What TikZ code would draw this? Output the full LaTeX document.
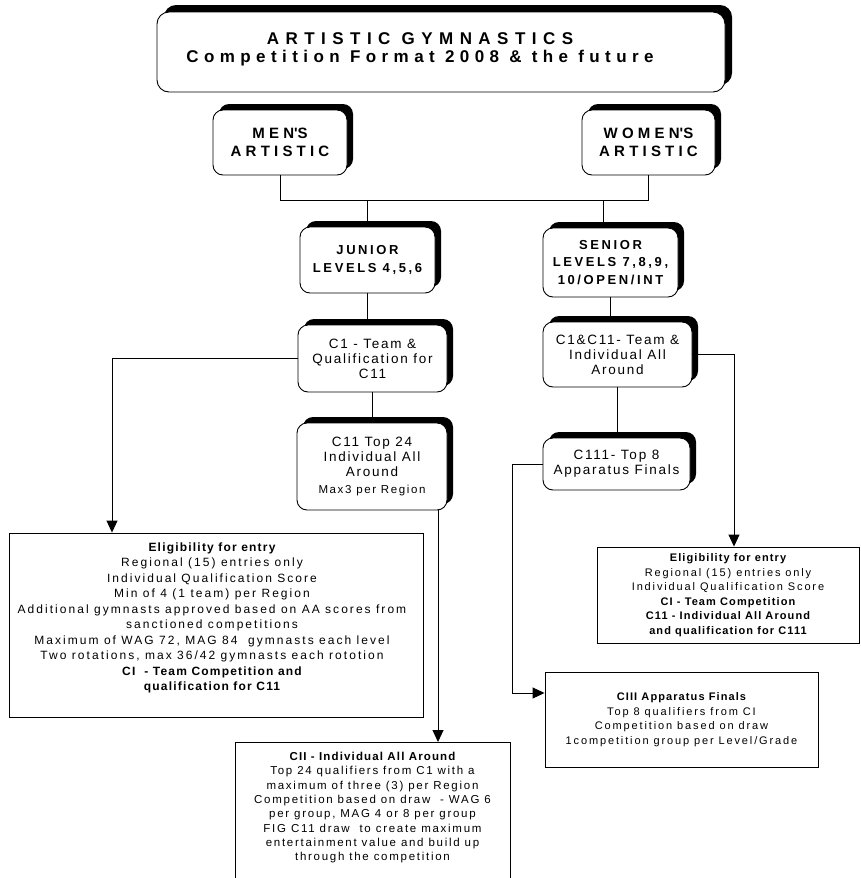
\documentclass[tikz,border=0pt]{standalone}
\usepackage{fontspec}
\setmainfont{Liberation Sans}
\usetikzlibrary{shadows,arrows.meta}
% tracking (letter spacing) for the current font, in per cent of its size
\newcommand{\ls}[1]{\addfontfeature{LetterSpace=#1}}
\newcommand{\sq}{\textquotesingle}
% bold heading line inside a note, with tighter tracking
\newcommand{\hd}[1]{{\bfseries\ls{10}#1}}

\begin{document}
\begin{tikzpicture}[x=1pt,y=-1pt,
  rbox/.style={draw, fill=white, rounded corners=10pt, line width=0.9pt,
    align=center, inner sep=0pt,
    drop shadow={shadow xshift=#1, shadow yshift=#1, fill=black, opacity=1}},
  rbox/.default=6pt,
  nbox/.style={draw, fill=white, line width=0.9pt, inner sep=0pt, align=center},
  link/.style={line width=0.9pt},
  tolink/.style={link, -{Triangle[width=11pt,length=12pt]}},
  titlefont/.style={font=\fontsize{17}{18}\selectfont\bfseries},
  genderfont/.style={font=\fontsize{15}{18}\selectfont\bfseries\ls{28}},
  levelfont/.style={font=\fontsize{13}{17.5}\selectfont\bfseries\ls{20}},
  stagefont/.style={font=\fontsize{13.5}{15}\selectfont\ls{13}},
  notefont/.style={font=\fontsize{12}{15.5}\selectfont\ls{17}},
  smallnote/.style={font=\fontsize{11}{14.5}\selectfont\ls{17}},
  midnote/.style={font=\fontsize{11.5}{14.3}\selectfont\ls{15}},
]
\clip (0,0) rectangle (860,878);
\fill[white] (0,0) rectangle (860,878);

% heading
\node[rbox=7pt, rounded corners=12pt, minimum width=568pt, minimum height=80pt] (title) at (441,52) {};
\node[titlefont, align=center, inner sep=0pt] (titletext) at (420,49)
  {\ls{38}ARTISTIC GYMNASTICS\\\ls{32}Competition Format 2008 \& the future};

% disciplines
\node[rbox, minimum width=134pt, minimum height=65pt, genderfont] (men) at (280,142.5)
  {MEN\sq S\\ARTISTIC};
\node[rbox, minimum width=133pt, minimum height=65pt, genderfont] (women) at (648.5,142.5)
  {WOMEN\sq S\\ARTISTIC};

% levels
\node[rbox, minimum width=135pt, minimum height=66pt, levelfont] (junior) at (367.5,260)
  {JUNIOR\\LEVELS 4,5,6};
\node[rbox, minimum width=135pt, minimum height=69pt, levelfont] (senior) at (610.5,262.5)
  {SENIOR\\LEVELS 7,8,9,\\10/OPEN/INT};

% competition stages
\node[rbox, minimum width=149pt, minimum height=67pt, stagefont] (c1) at (372.5,358.5)
  {C1 - Team \&\\Qualification for\\C11};
\node[rbox, minimum width=149pt, minimum height=65pt, stagefont] (c1c11) at (617.5,354.5)
  {C1\&C11- Team \&\\Individual All\\Around};
\node[rbox, minimum width=150pt, minimum height=87pt, stagefont] (c11) at (372,466.5)
  {C11 Top 24\\Individual All\\Around\\[1.5pt]{\fontsize{11.5}{14}\selectfont\ls{14}Max3 per Region}};
\node[rbox, minimum width=147pt, minimum height=52pt, stagefont] (c111) at (616.5,464)
  {C111- Top 8\\Apparatus Finals};

% detail notes
\node[nbox, minimum width=414pt, minimum height=184pt] (eligL) at (216,625) {};
\node[notefont, align=center, inner sep=0pt, anchor=north] (eligLtext) at ([xshift=-4pt,yshift=-10pt]eligL.north)
  {\hd{Eligibility for entry}\\
   Regional (15) entries only\\
   Individual Qualification Score\\
   Min of 4 (1 team) per Region\\
   Additional gymnasts approved based on AA scores from\\
   sanctioned competitions\\
   Maximum of WAG 72, MAG 84 \ gymnasts each level\\
   Two rotations, max 36/42 gymnasts each rototion\\
   \hd{CI \ - Team Competition and}\\
   \hd{qualification for C11}};

\node[nbox, minimum width=262pt, minimum height=96pt, smallnote] (eligR) at (728,595)
  {\hd{Eligibility for entry}\\
   Regional (15) entries only\\
   Individual Qualification Score\\
   \hd{CI - Team Competition}\\
   \hd{C11 - Individual All Around}\\
   \hd{and qualification for C111}};

\node[nbox, minimum width=273pt, minimum height=95pt, smallnote] (ciii) at (681.5,719.5)
  {\hd{CIII Apparatus Finals}\\
   Top 8 qualifiers from CI\\
   Competition based on draw\\
   1competition group per Level/Grade};

\node[nbox, minimum width=275pt, minimum height=170pt, anchor=north] (cii) at (372.5,742) {};
\node[midnote, align=center, inner sep=0pt, anchor=north] (ciitext) at ([yshift=-10pt]cii.north)
  {\hd{CII - Individual All Around}\\
   Top 24 qualifiers from C1 with a\\
   maximum of three (3) per Region\\
   Competition based on draw \ - WAG 6\\
   per group, MAG 4 or 8 per group\\
   FIG C11 draw \ to create maximum\\
   entertainment value and build up\\
   through the competition};

% connector turning points
\coordinate (busL) at (280,200);
\coordinate (busR) at (648.5,200);
\coordinate (sdrop) at (603,200);
\coordinate (eLx) at (112,0);
\coordinate (eRx) at (734,0);
\coordinate (iix) at (438,0);
\coordinate (iiibend) at (512,693);

% connectors
\draw[link] (men.south) -- (busL) -- (busR) -- (women.south);
\draw[link] (junior.north) -- (junior.north |- busL);
\draw[link] (sdrop) -- (sdrop |- senior.north);
\draw[link] (junior.south) -- (junior.south |- c1.north);
\draw[link] (c1.south) -- (c1.south |- c11.north);
\draw[link] (senior.south) -- (senior.south |- c1c11.north);
\draw[link] (c1c11.south) -- (c1c11.south |- c111.north);
\draw[tolink] (c1.west) -| (eLx |- eligL.north);
\draw[tolink] (c1c11.east) -| (eRx |- eligR.north);
\draw[tolink] (iix |- c11.south) -- (iix |- cii.north);
\draw[tolink] (c111.west) -| (iiibend) -- (iiibend -| ciii.west);
\end{tikzpicture}
\end{document}
